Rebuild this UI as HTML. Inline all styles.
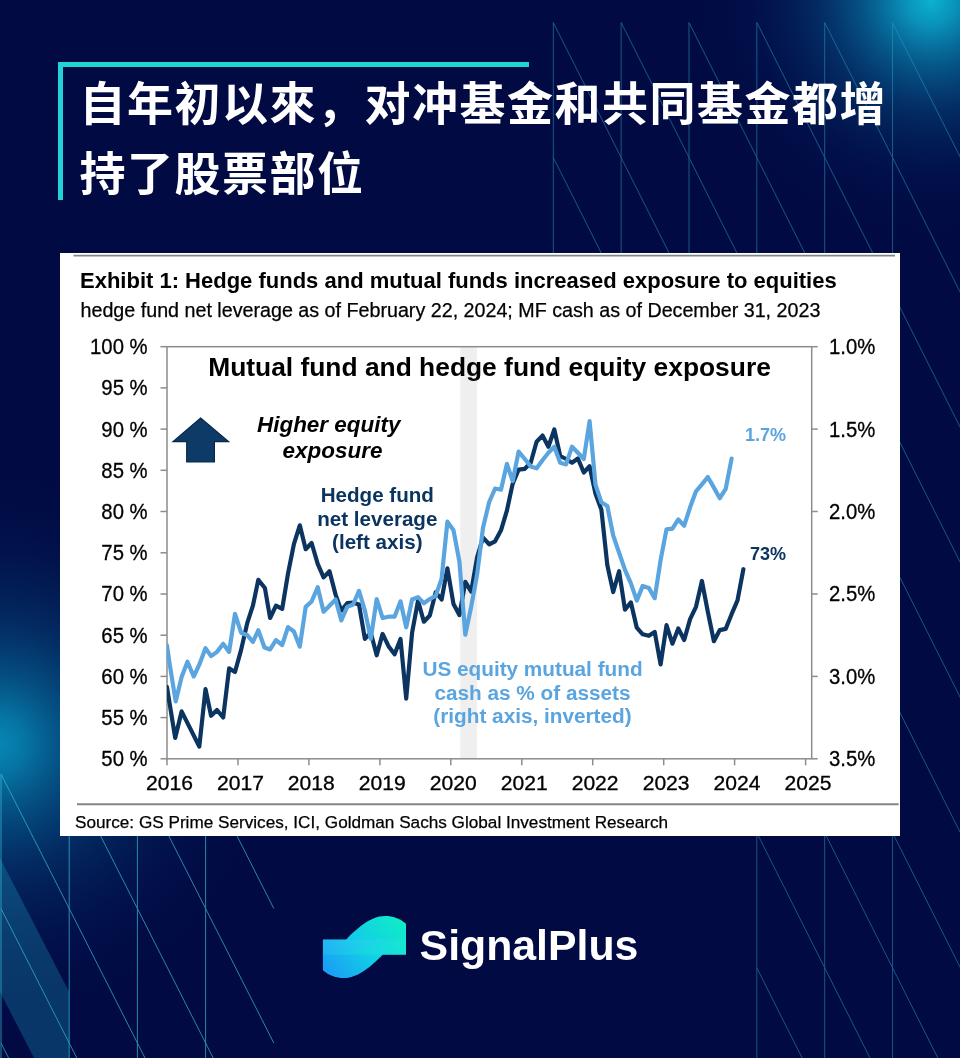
<!DOCTYPE html>
<html lang="zh">
<head>
<meta charset="utf-8">
<title>SignalPlus</title>
<style>
html,body{margin:0;padding:0;}
body{width:960px;height:1058px;overflow:hidden;background:#010a43;position:relative;font-family:"Liberation Sans","Noto Sans CJK SC",sans-serif;}
#bg{position:absolute;left:0;top:0;}
#title{position:absolute;left:79.6px;top:69.4px;margin:0;color:#fff;font-family:"Liberation Sans","Noto Sans CJK SC",sans-serif;font-weight:700;font-size:46px;line-height:70px;letter-spacing:1.5px;white-space:nowrap;}
#brk-h{position:absolute;left:57.5px;top:62px;width:471px;height:5px;background:#1fd3d6;}
#brk-v{position:absolute;left:57.5px;top:62px;width:5px;height:138px;background:#1fd3d6;}
#brand{position:absolute;left:419.6px;top:921.4px;margin:0;color:#fff;font-weight:700;font-size:42.8px;line-height:48px;white-space:nowrap;}
svg text{font-family:"Liberation Sans",sans-serif;}
</style>
</head>
<body>
<svg id="bg" width="960" height="1058" viewBox="0 0 960 1058">
<defs>
<radialGradient id="g1" cx="931" cy="0" r="250" gradientUnits="userSpaceOnUse">
<stop offset="0" stop-color="#0cb2d0" stop-opacity="1"/>
<stop offset="0.1" stop-color="#0a9dc3" stop-opacity="0.93"/>
<stop offset="0.27" stop-color="#0878a8" stop-opacity="0.68"/>
<stop offset="0.46" stop-color="#06558a" stop-opacity="0.42"/>
<stop offset="0.7" stop-color="#04306a" stop-opacity="0.17"/>
<stop offset="1" stop-color="#030b45" stop-opacity="0"/>
</radialGradient>
<radialGradient id="g2" cx="-4" cy="744" r="285" gradientUnits="userSpaceOnUse">
<stop offset="0" stop-color="#0789b6" stop-opacity="1"/>
<stop offset="0.1" stop-color="#067dab" stop-opacity="0.93"/>
<stop offset="0.25" stop-color="#066697" stop-opacity="0.72"/>
<stop offset="0.45" stop-color="#054c80" stop-opacity="0.46"/>
<stop offset="0.7" stop-color="#043068" stop-opacity="0.2"/>
<stop offset="1" stop-color="#030b45" stop-opacity="0"/>
</radialGradient>
<linearGradient id="lg" x1="323" y1="978" x2="406" y2="916" gradientUnits="userSpaceOnUse">
<stop offset="0" stop-color="#1b97f7"/>
<stop offset="0.5" stop-color="#12cfe6"/>
<stop offset="1" stop-color="#0fefc4"/>
</linearGradient>
</defs>
<rect width="960" height="1058" fill="#010a43"/>
<rect width="960" height="1058" fill="url(#g1)"/>
<rect width="960" height="1058" fill="url(#g2)"/>
<g stroke="#2a9cc2" stroke-width="0.9" opacity="0.6" fill="none">
<line x1="553.3" y1="22.5" x2="553.3" y2="292.6"/>
<line x1="621.15" y1="22.5" x2="621.15" y2="292.6"/>
<line x1="689.0" y1="22.5" x2="689.0" y2="292.6"/>
<line x1="756.8499999999999" y1="22.5" x2="756.8499999999999" y2="292.6"/>
<line x1="824.6999999999999" y1="22.5" x2="824.6999999999999" y2="292.6"/>
<line x1="892.55" y1="22.5" x2="892.55" y2="292.6"/>
<line x1="553.3" y1="22.5" x2="621.15" y2="157.55"/>
<line x1="621.15" y1="22.5" x2="689.0" y2="157.55"/>
<line x1="689.0" y1="22.5" x2="756.85" y2="157.55"/>
<line x1="756.8499999999999" y1="22.5" x2="824.6999999999999" y2="157.55"/>
<line x1="824.6999999999999" y1="22.5" x2="892.55" y2="157.55"/>
<line x1="892.55" y1="22.5" x2="960.4" y2="157.55"/>
<line x1="553.3" y1="157.55" x2="621.15" y2="292.6"/>
<line x1="621.15" y1="157.55" x2="689.0" y2="292.6"/>
<line x1="689.0" y1="157.55" x2="756.85" y2="292.6"/>
<line x1="756.8499999999999" y1="157.55" x2="824.6999999999999" y2="292.6"/>
<line x1="824.6999999999999" y1="157.55" x2="892.55" y2="292.6"/>
<line x1="892.55" y1="157.55" x2="960.4" y2="292.6"/>
<line x1="756.8499999999999" y1="292.6" x2="756.8499999999999" y2="1102.9"/>
<line x1="824.6999999999999" y1="292.6" x2="824.6999999999999" y2="1102.9"/>
<line x1="892.55" y1="292.6" x2="892.55" y2="1102.9"/>
<line x1="756.8499999999999" y1="292.6" x2="824.6999999999999" y2="427.65000000000003"/>
<line x1="824.6999999999999" y1="292.6" x2="892.55" y2="427.65000000000003"/>
<line x1="892.55" y1="292.6" x2="960.4" y2="427.65000000000003"/>
<line x1="756.8499999999999" y1="427.65000000000003" x2="824.6999999999999" y2="562.7"/>
<line x1="824.6999999999999" y1="427.65000000000003" x2="892.55" y2="562.7"/>
<line x1="892.55" y1="427.65000000000003" x2="960.4" y2="562.7"/>
<line x1="756.8499999999999" y1="562.7" x2="824.6999999999999" y2="697.75"/>
<line x1="824.6999999999999" y1="562.7" x2="892.55" y2="697.75"/>
<line x1="892.55" y1="562.7" x2="960.4" y2="697.75"/>
<line x1="756.8499999999999" y1="697.75" x2="824.6999999999999" y2="832.8"/>
<line x1="824.6999999999999" y1="697.75" x2="892.55" y2="832.8"/>
<line x1="892.55" y1="697.75" x2="960.4" y2="832.8"/>
<line x1="756.8499999999999" y1="832.8000000000001" x2="824.6999999999999" y2="967.8500000000001"/>
<line x1="824.6999999999999" y1="832.8000000000001" x2="892.55" y2="967.8500000000001"/>
<line x1="892.55" y1="832.8000000000001" x2="960.4" y2="967.8500000000001"/>
<line x1="756.8499999999999" y1="967.85" x2="824.6999999999999" y2="1102.9"/>
<line x1="824.6999999999999" y1="967.85" x2="892.55" y2="1102.9"/>
<line x1="892.55" y1="967.85" x2="960.4" y2="1102.9"/>
</g>
<polygon points="0,858 69.2,992 69.2,1126 0,992" fill="#22a8c8" opacity="0.28"/>
<g stroke="#38bcd6" stroke-width="0.9" opacity="0.78" fill="none">
<line x1="1.0" y1="774" x2="1.0" y2="1177.5"/>
<line x1="69.2" y1="774" x2="69.2" y2="1177.5"/>
<line x1="137.4" y1="774" x2="137.4" y2="1177.5"/>
<line x1="205.60000000000002" y1="774" x2="205.60000000000002" y2="1177.5"/>
<line x1="1.0" y1="774.0" x2="69.2" y2="908.5"/>
<line x1="69.2" y1="774.0" x2="137.4" y2="908.5"/>
<line x1="137.4" y1="774.0" x2="205.60000000000002" y2="908.5"/>
<line x1="205.60000000000002" y1="774.0" x2="273.8" y2="908.5"/>
<line x1="1.0" y1="908.5" x2="69.2" y2="1043.0"/>
<line x1="69.2" y1="908.5" x2="137.4" y2="1043.0"/>
<line x1="137.4" y1="908.5" x2="205.60000000000002" y2="1043.0"/>
<line x1="205.60000000000002" y1="908.5" x2="273.8" y2="1043.0"/>
<line x1="1.0" y1="1043.0" x2="69.2" y2="1177.5"/>
<line x1="69.2" y1="1043.0" x2="137.4" y2="1177.5"/>
<line x1="137.4" y1="1043.0" x2="205.60000000000002" y2="1177.5"/>
<line x1="205.60000000000002" y1="1043.0" x2="273.8" y2="1177.5"/>
</g>
<!-- card -->
<rect x="60" y="253" width="840" height="583" fill="#fff"/>
<line x1="73.5" y1="255.6" x2="895" y2="255.6" stroke="#858585" stroke-width="1.9"/>
<line x1="77" y1="804.2" x2="898.7" y2="804.2" stroke="#858585" stroke-width="1.9"/>
<text x="80" y="287.5" font-size="22.01" font-weight="700" fill="#000">Exhibit 1: Hedge funds and mutual funds increased exposure to equities</text>
<text x="80.5" y="316.6" font-size="19.69" fill="#000" stroke="#000" stroke-width="0.25">hedge fund net leverage as of February 22, 2024; MF cash as of December 31, 2023</text>
<text x="75" y="827.6" font-size="17.16" fill="#000" stroke="#000" stroke-width="0.25">Source: GS Prime Services, ICI, Goldman Sachs Global Investment Research</text>
<!-- recession band -->
<rect x="460.3" y="346.7" width="16.8" height="412.1" fill="#efefef"/>
<!-- axes -->
<g stroke="#8c8c8c" stroke-width="1.5" fill="none">
<rect x="167" y="346.7" width="644.7" height="412.1"/>
<line x1="160.5" y1="346.7" x2="167" y2="346.7"/>
<line x1="160.5" y1="387.9" x2="167" y2="387.9"/>
<line x1="160.5" y1="429.1" x2="167" y2="429.1"/>
<line x1="160.5" y1="470.3" x2="167" y2="470.3"/>
<line x1="160.5" y1="511.5" x2="167" y2="511.5"/>
<line x1="160.5" y1="552.8" x2="167" y2="552.8"/>
<line x1="160.5" y1="594.0" x2="167" y2="594.0"/>
<line x1="160.5" y1="635.2" x2="167" y2="635.2"/>
<line x1="160.5" y1="676.4" x2="167" y2="676.4"/>
<line x1="160.5" y1="717.6" x2="167" y2="717.6"/>
<line x1="160.5" y1="758.8" x2="167" y2="758.8"/>
<line x1="811.7" y1="346.7" x2="817.7" y2="346.7"/>
<line x1="811.7" y1="429.1" x2="817.7" y2="429.1"/>
<line x1="811.7" y1="511.5" x2="817.7" y2="511.5"/>
<line x1="811.7" y1="594.0" x2="817.7" y2="594.0"/>
<line x1="811.7" y1="676.4" x2="817.7" y2="676.4"/>
<line x1="811.7" y1="758.8" x2="817.7" y2="758.8"/>
<line x1="167.0" y1="758.8" x2="167.0" y2="765.3"/>
<line x1="238.0" y1="758.8" x2="238.0" y2="765.3"/>
<line x1="308.9" y1="758.8" x2="308.9" y2="765.3"/>
<line x1="379.9" y1="758.8" x2="379.9" y2="765.3"/>
<line x1="450.8" y1="758.8" x2="450.8" y2="765.3"/>
<line x1="521.8" y1="758.8" x2="521.8" y2="765.3"/>
<line x1="592.7" y1="758.8" x2="592.7" y2="765.3"/>
<line x1="663.7" y1="758.8" x2="663.7" y2="765.3"/>
<line x1="734.6" y1="758.8" x2="734.6" y2="765.3"/>
<line x1="805.6" y1="758.8" x2="805.6" y2="765.3"/>
</g>
<g font-size="20.3" fill="#000" stroke="#000" stroke-width="0.3">
<text transform="translate(147.6,354.1) scale(0.931,1)" text-anchor="end" font-size="21.8">100 %</text>
<text transform="translate(147.6,395.3) scale(0.931,1)" text-anchor="end" font-size="21.8">95 %</text>
<text transform="translate(147.6,436.5) scale(0.931,1)" text-anchor="end" font-size="21.8">90 %</text>
<text transform="translate(147.6,477.7) scale(0.931,1)" text-anchor="end" font-size="21.8">85 %</text>
<text transform="translate(147.6,518.9) scale(0.931,1)" text-anchor="end" font-size="21.8">80 %</text>
<text transform="translate(147.6,560.1) scale(0.931,1)" text-anchor="end" font-size="21.8">75 %</text>
<text transform="translate(147.6,601.4) scale(0.931,1)" text-anchor="end" font-size="21.8">70 %</text>
<text transform="translate(147.6,642.6) scale(0.931,1)" text-anchor="end" font-size="21.8">65 %</text>
<text transform="translate(147.6,683.8) scale(0.931,1)" text-anchor="end" font-size="21.8">60 %</text>
<text transform="translate(147.6,725.0) scale(0.931,1)" text-anchor="end" font-size="21.8">55 %</text>
<text transform="translate(147.6,766.2) scale(0.931,1)" text-anchor="end" font-size="21.8">50 %</text>
<text transform="translate(829,354.1) scale(0.931,1)" font-size="21.8">1.0%</text>
<text transform="translate(829,436.5) scale(0.931,1)" font-size="21.8">1.5%</text>
<text transform="translate(829,518.9) scale(0.931,1)" font-size="21.8">2.0%</text>
<text transform="translate(829,601.4) scale(0.931,1)" font-size="21.8">2.5%</text>
<text transform="translate(829,683.8) scale(0.931,1)" font-size="21.8">3.0%</text>
<text transform="translate(829,766.2) scale(0.931,1)" font-size="21.8">3.5%</text>
<text transform="translate(169.4,790.4) scale(1.045,1)" text-anchor="middle" font-size="20.2">2016</text>
<text transform="translate(240.4,790.4) scale(1.045,1)" text-anchor="middle" font-size="20.2">2017</text>
<text transform="translate(311.3,790.4) scale(1.045,1)" text-anchor="middle" font-size="20.2">2018</text>
<text transform="translate(382.3,790.4) scale(1.045,1)" text-anchor="middle" font-size="20.2">2019</text>
<text transform="translate(453.2,790.4) scale(1.045,1)" text-anchor="middle" font-size="20.2">2020</text>
<text transform="translate(524.2,790.4) scale(1.045,1)" text-anchor="middle" font-size="20.2">2021</text>
<text transform="translate(595.1,790.4) scale(1.045,1)" text-anchor="middle" font-size="20.2">2022</text>
<text transform="translate(666.1,790.4) scale(1.045,1)" text-anchor="middle" font-size="20.2">2023</text>
<text transform="translate(737.0,790.4) scale(1.045,1)" text-anchor="middle" font-size="20.2">2024</text>
<text transform="translate(808.0,790.4) scale(1.045,1)" text-anchor="middle" font-size="20.2">2025</text>
</g>
<!-- series -->
<clipPath id="cp"><rect x="167" y="346.7" width="644.7" height="412.1"/></clipPath>
<g clip-path="url(#cp)" fill="none" stroke-linejoin="round" stroke-linecap="round" stroke-width="4.2">
<polyline stroke="#0b3560" points="166.9,686.8 175.2,737.9 181.6,711.4 199.3,746.5 205.5,689.2 211.1,715.8 217.0,710.1 223.2,717.5 229.1,668.4 235.0,672.0 241.1,649.9 247.3,622.9 252.9,605.7 258.3,579.9 264.9,588.0 270.1,618.0 276.0,605.7 282.2,608.9 288.0,573.7 293.9,544.2 299.8,525.3 305.7,549.2 311.6,543.0 317.7,563.9 323.6,577.4 329.5,571.3 335.6,594.6 341.3,610.6 347.2,603.2 353.1,602.7 359.0,604.5 364.9,638.9 370.8,632.7 376.7,655.3 382.6,633.9 388.5,646.2 394.6,654.3 400.5,638.9 406.2,698.6 412.1,632.7 418.0,600.8 423.9,621.7 429.8,615.5 435.7,592.2 441.6,599.5 447.4,568.4 453.5,604.0 459.4,615.1 465.3,581.9 471.2,591.7 477.1,557.3 483.0,537.6 489.2,544.3 495.1,541.3 501.0,530.3 506.9,510.6 512.7,483.6 518.6,469.6 524.8,468.8 530.7,462.7 536.6,441.8 542.5,435.6 548.4,446.7 554.3,429.5 560.2,456.0 566.1,459.0 572.0,462.7 577.9,458.5 583.8,472.5 589.6,466.2 595.5,493.7 601.4,509.7 607.3,565.0 613.2,592.0 619.1,571.2 625.0,609.7 630.9,602.4 636.8,627.7 642.7,634.3 648.8,635.8 654.7,631.9 660.6,664.5 666.5,625.2 672.4,643.7 678.3,628.4 684.2,640.0 690.1,619.1 696.0,606.8 701.9,581.0 707.8,611.7 713.9,641.2 719.8,630.1 725.7,628.9 731.6,614.2 737.5,600.4 743.4,569.2"/>
<polyline stroke="#5aa5e0" points="166.9,645.0 169.8,664.7 175.7,701.5 181.6,677.0 187.5,661.7 193.7,676.5 199.3,664.7 205.5,648.2 211.1,656.1 217.0,651.9 223.2,643.8 229.1,651.9 235.0,613.8 241.1,632.7 247.3,635.2 252.9,641.8 258.3,630.3 264.5,647.5 270.1,649.4 276.0,640.1 282.2,645.0 288.0,627.1 293.9,631.5 299.8,646.7 305.7,606.9 311.6,601.5 317.7,587.3 323.6,611.8 329.5,605.7 335.6,599.5 341.3,620.4 347.2,606.9 353.1,604.5 359.0,590.9 364.9,610.6 370.8,638.9 376.7,599.0 382.6,618.0 388.5,616.7 394.6,616.7 400.5,601.3 406.2,627.3 412.1,599.5 418.0,597.1 423.9,603.2 429.8,599.0 435.7,595.9 441.6,578.6 447.4,521.7 453.5,530.3 459.4,561.5 465.3,634.7 471.2,606.5 477.1,574.5 483.0,527.8 489.2,502.0 495.1,488.5 501.0,489.7 506.9,463.9 512.7,481.1 518.6,451.6 524.8,459.0 530.7,466.4 536.6,468.3 542.5,460.2 548.4,452.8 554.3,446.7 560.2,462.7 566.1,464.4 572.0,446.7 577.9,452.8 583.8,459.0 589.6,421.0 595.5,484.6 601.4,502.3 607.3,506.0 613.2,535.5 619.1,552.7 625.0,569.9 630.9,583.4 636.8,600.6 642.7,585.9 648.8,587.9 654.7,598.2 660.6,560.1 666.5,529.4 672.4,528.6 678.3,519.5 684.2,525.7 690.1,507.3 696.0,491.3 701.9,484.4 707.8,477.0 713.9,487.6 719.8,498.2 725.7,488.8 731.6,458.6"/>
</g>
<!-- annotations -->
<text x="489.5" y="375.8" font-size="26.39" font-weight="700" text-anchor="middle" fill="#000">Mutual fund and hedge fund equity exposure</text>
<polygon points="200.6,418 228.6,441.6 214.4,441.6 214.4,462 186.7,462 186.7,441.6 173,441.6" fill="#0d3a66" stroke="#08284a" stroke-width="1.2" stroke-linejoin="miter"/>
<g font-size="22.45" font-weight="700" font-style="italic" text-anchor="middle" fill="#000">
<text x="328.7" y="431.8">Higher equity</text>
<text x="332.5" y="458.4">exposure</text>
</g>
<g font-size="20.6" font-weight="700" text-anchor="middle" fill="#0b3560">
<text x="377.3" y="502">Hedge fund</text>
<text x="377.3" y="525.5">net leverage</text>
<text x="377.3" y="549">(left axis)</text>
</g>
<g font-size="20.75" font-weight="700" text-anchor="middle" fill="#5aa5e0">
<text x="532.5" y="675.9">US equity mutual fund</text>
<text x="532.5" y="699.5">cash as % of assets</text>
<text x="532.5" y="722.9">(right axis, inverted)</text>
</g>
<text x="745" y="440.6" font-size="18" font-weight="700" fill="#5aa5e0">1.7%</text>
<text x="750" y="559.8" font-size="18" font-weight="700" fill="#0b3560">73%</text>
<!-- logo -->
<path d="M322.9,939.4 H346.25 C356,929.6 370,916 385,916 C393,916 400,918.5 406,923.75 V954.7 H382.65 C372.9,964.5 358.9,978.1 343.9,978.1 C335.9,978.1 328.9,975.6 322.9,970.35 Z" fill="url(#lg)"/>
<rect x="322.9" y="939.4" width="83.1" height="15.3" fill="#5ff2ff" opacity="0.10"/>
<path d="M322.9,954.7 L406,939.4 V954.7 Z" fill="#0ff0c0" opacity="0.14"/>
<path d="M322.9,954.7 L406,939.4 H322.9 Z" fill="#48c8ff" opacity="0.10"/>
</svg>
<div id="brk-h"></div><div id="brk-v"></div>
<h1 id="title">自年初以來，对冲基金和共同基金都增<br>持了股票部位</h1>
<p id="brand">SignalPlus</p>
</body>
</html>
